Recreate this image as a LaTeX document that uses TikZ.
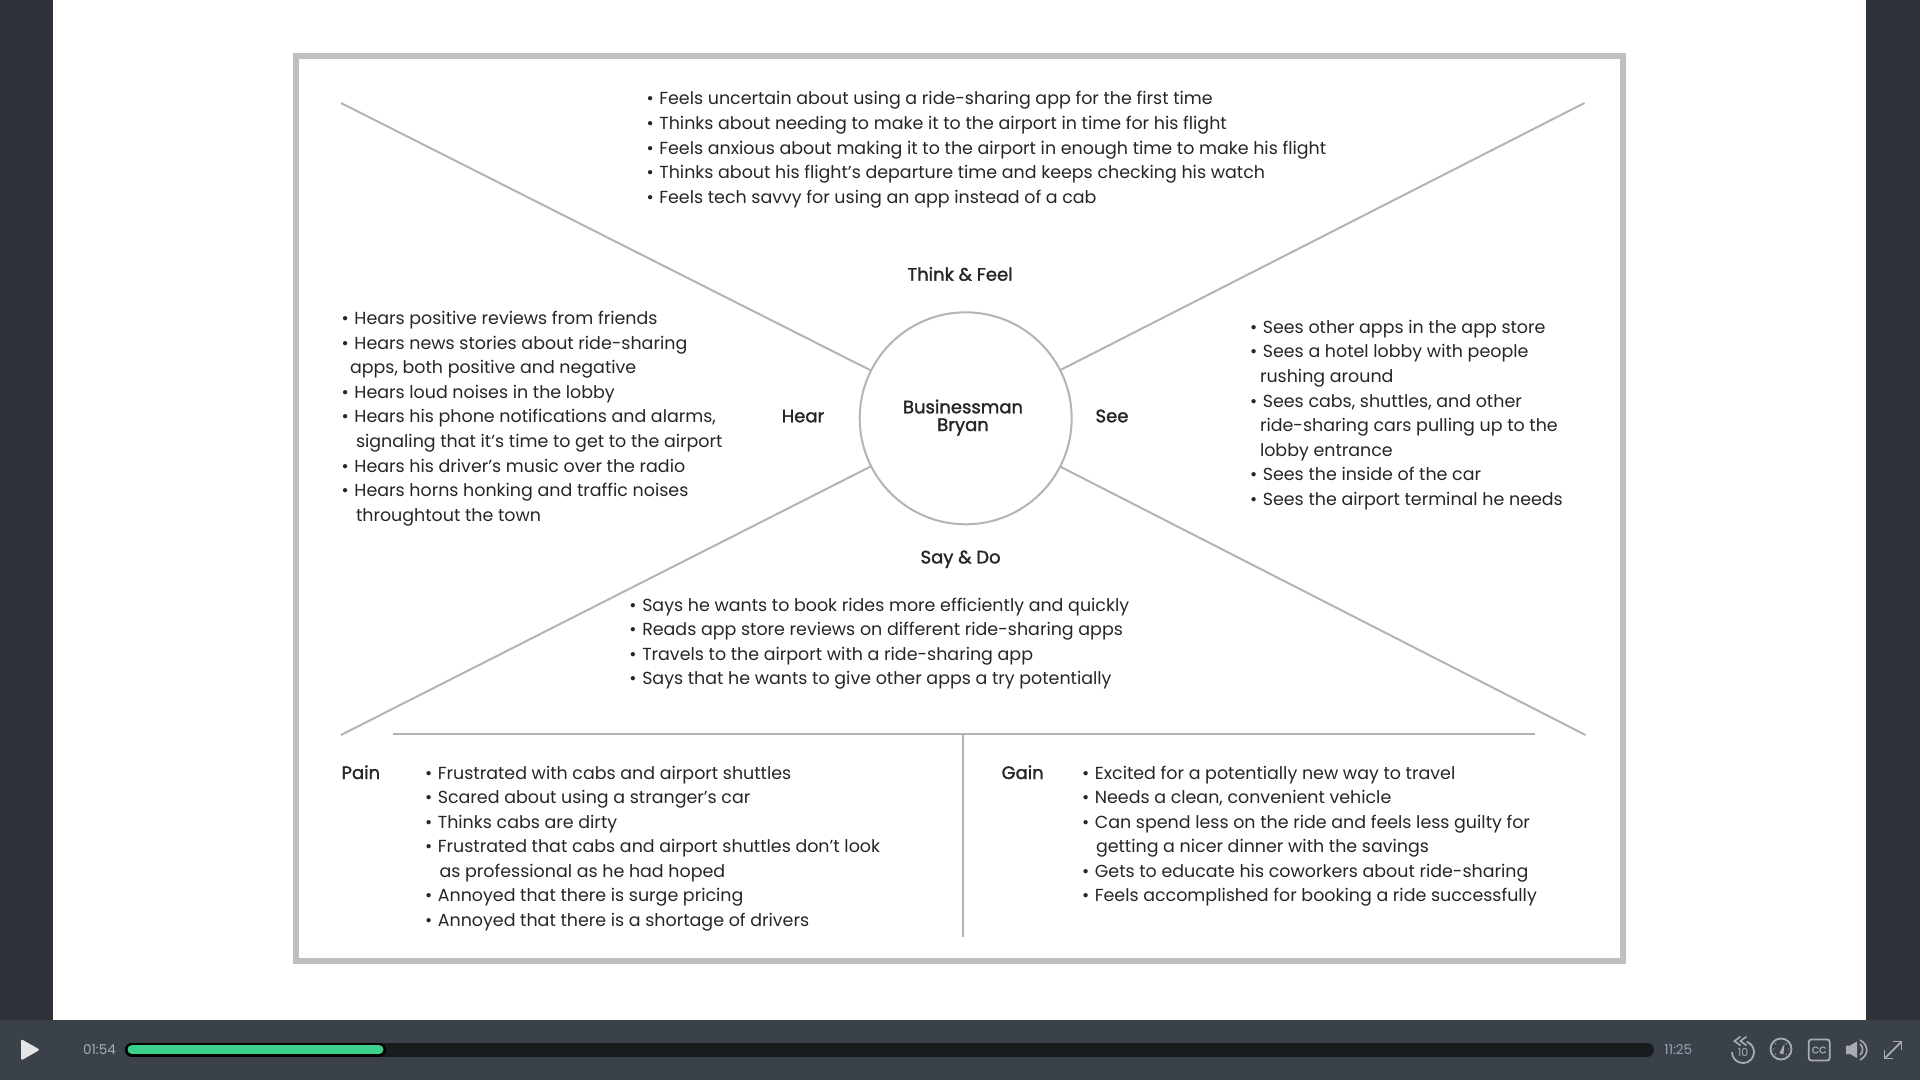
\documentclass[tikz,border=0pt]{standalone}
\usepackage{fontspec}
\setmainfont{Poppins}
\newfontfamily\hdfont[FakeBold=1.6]{Poppins}
\newcommand{\itm}{•\hspace{1pt} }
\definecolor{sidebar}{HTML}{2E323B}
\definecolor{ctrlbar}{HTML}{3A4149}
\definecolor{trackdark}{HTML}{181C1F}
\definecolor{trackgreen}{HTML}{3DD08C}
\definecolor{ctrlicon}{HTML}{A9ADB1}
\definecolor{totalblue}{HTML}{93A6B8}
\definecolor{framegray}{HTML}{BFBFBF}
\definecolor{linegray}{HTML}{B4B4B4}
\definecolor{inkgray}{HTML}{262626}
\tikzset{
    txt/.style={anchor=base west,inner sep=0pt,outer sep=0pt,text=inkgray,font=\fontsize{17.45}{20}\selectfont},
    hd/.style={anchor=base,inner sep=0pt,outer sep=0pt,text=inkgray,font=\hdfont\fontsize{18}{20}\selectfont},
    rule/.style={draw=linegray,line width=2pt},
    ctrltxt/.style={inner sep=0pt,font=\fontsize{13.5}{16}\selectfont},
    icon/.style={draw=ctrlicon,line width=1.6pt},
}
\begin{document}
\begin{tikzpicture}[x=1pt,y=-1pt]
        \fill[sidebar] (0,0) rectangle (1920,1080);
        \fill[white] (53,0) rectangle (1866,1020);
        \useasboundingbox (0,0) rectangle (1920,1080);

        \draw[draw=framegray,line width=6pt] (296,56) rectangle (1623,961);

        \node[circle,draw=linegray,line width=2pt,inner sep=0pt,outer sep=0pt,minimum size=212pt] (persona) at(965.7, 418.3){};
        \coordinate (tl) at(341, 103);
        \coordinate (tr) at(1584.5, 103);
        \coordinate (bl) at(341, 735);
        \coordinate (br) at(1585.5, 735);
        \draw[rule] (tl) -- (persona);
        \draw[rule] (tr) -- (persona);
        \draw[rule] (bl) -- (persona);
        \draw[rule] (br) -- (persona);

        \coordinate (hleft) at(393, 733.5);
        \coordinate (hright) at(1535, 733.5);
        \coordinate (vtop) at(962.5, 733.5);
        \coordinate (vbot) at(962.5, 937);
        \draw[rule] (hleft) -- (hright);
        \draw[rule] (vtop) -- (vbot);

        \node[hd] (name1) at(963, 413.3){Businessman};
        \node[hd] (name2) at(963, 431){Bryan};
        \node[hd] (think) at(960, 280.7){Think \& Feel};
        \node[hd] (hear) at(803, 422.3){Hear};
        \node[hd] (see) at(1112, 422.3){See};
        \node[hd] (say) at(960.6, 563.4){Say \& Do};
        \node[hd,anchor=base west] (pain) at(341.6, 779){Pain};
        \node[hd,anchor=base west] (gain) at(1001.6, 779){Gain};

        \node[txt] (tf1) at(646.5, 104.9){\itm Feels uncertain about using a ride-sharing app for the first time};
        \node[txt] (tf2) at(646.5, 129.5){\itm Thinks about needing to make it to the airport in time for his flight};
        \node[txt] (tf3) at(646.5, 154.1){\itm Feels anxious about making it to the airport in enough time to make his flight};
        \node[txt] (tf4) at(646.5, 178.8){\itm Thinks about his flight's departure time and keeps checking his watch};
        \node[txt] (tf5) at(646.5, 203.4){\itm Feels tech savvy for using an app instead of a cab};

        \node[txt] (he1) at(341.6, 324.7){\itm Hears positive reviews from friends};
        \node[txt] (he2) at(341.6, 349.2){\itm Hears news stories about ride-sharing};
        \node[txt] (he3) at(350, 373.8){apps, both positive and negative};
        \node[txt] (he4) at(341.6, 398.3){\itm Hears loud noises in the lobby};
        \node[txt] (he5) at(341.6, 422.9){\itm Hears his phone notifications and alarms,};
        \node[txt] (he6) at(356, 447.4){signaling that it's time to get to the airport};
        \node[txt] (he7) at(341.6, 472){\itm Hears his driver's music over the radio};
        \node[txt] (he8) at(341.6, 496.5){\itm Hears horns honking and traffic noises};
        \node[txt] (he9) at(356, 521){throughtout the town};

        \node[txt] (se1) at(1250, 333.3){\itm Sees other apps in the app store};
        \node[txt] (se2) at(1250, 357.9){\itm Sees a hotel lobby with people};
        \node[txt] (se3) at(1260, 382.4){rushing around};
        \node[txt] (se4) at(1250, 407){\itm Sees cabs, shuttles, and other};
        \node[txt] (se5) at(1260, 431.5){ride-sharing cars pulling up to the};
        \node[txt] (se6) at(1260, 456.1){lobby entrance};
        \node[txt] (se7) at(1250, 480.6){\itm Sees the inside of the car};
        \node[txt] (se8) at(1250, 505.2){\itm Sees the airport terminal he needs};

        \node[txt] (sd1) at(629.4, 611){\itm Says he wants to book rides more efficiently and quickly};
        \node[txt] (sd2) at(629.4, 635.5){\itm Reads app store reviews on different ride-sharing apps};
        \node[txt] (sd3) at(629.4, 660.1){\itm Travels to the airport with a ride-sharing app};
        \node[txt] (sd4) at(629.4, 684.6){\itm Says that he wants to give other apps a try potentially};

        \node[txt] (pa1) at(425, 779){\itm Frustrated with cabs and airport shuttles};
        \node[txt] (pa2) at(425, 803.5){\itm Scared about using a stranger's car};
        \node[txt] (pa3) at(425, 828.1){\itm Thinks cabs are dirty};
        \node[txt] (pa4) at(425, 852.6){\itm Frustrated that cabs and airport shuttles don't look};
        \node[txt] (pa5) at(439.6, 877.2){as professional as he had hoped};
        \node[txt] (pa6) at(425, 901.7){\itm Annoyed that there is surge pricing};
        \node[txt] (pa7) at(425, 926.3){\itm Annoyed that there is a shortage of drivers};

        \node[txt] (ga1) at(1082, 779){\itm Excited for a potentially new way to travel};
        \node[txt] (ga2) at(1082, 803.5){\itm Needs a clean, convenient vehicle};
        \node[txt] (ga3) at(1082, 828.1){\itm Can spend less on the ride and feels less guilty for};
        \node[txt] (ga4) at(1096, 852.6){getting a nicer dinner with the savings};
        \node[txt] (ga5) at(1082, 877.2){\itm Gets to educate his coworkers about ride-sharing};
        \node[txt] (ga6) at(1082, 901.7){\itm Feels accomplished for booking a ride successfully};

        \fill[ctrlbar] (0,1020) rectangle (1920,1080);
        \fill[white!90!black,rounded corners=1.5pt] (21,1039) -- (40,1049.7) -- (21,1060.5) -- cycle;
        \node[ctrltxt,text=ctrlicon] (elapsed) at(99.5, 1049.7){01:54};
        \node[ctrltxt,text=totalblue] (total) at(1678.3, 1049.7){11:25};

        \draw[trackdark,line width=14pt,line cap=round] (132,1049.7) -- (1647,1049.7);
        \draw[black,line width=14pt,line cap=round] (132,1049.7) -- (379,1049.7);
        \draw[trackgreen,line width=9pt,line cap=round] (132,1049.7) -- (379,1049.7);

        \draw[icon,line width=1.8pt] (1746.8,1041.7) arc[start angle=-70,end angle=180,radius=11];
        \draw[icon] (1740.5,1036.5) -- (1734.5,1041) -- (1740.5,1045.5);
        \draw[icon] (1746.5,1036.5) -- (1740.5,1041) -- (1746.5,1045.5);
        \node[inner sep=0pt,text=ctrlicon,font=\fontsize{11}{12}\selectfont] (skip) at(1743, 1052){10};

        \draw[icon,line width=1.8pt] (1781,1049) circle[radius=10.5];
        \fill[ctrlicon] (1784.5,1043.5) -- (1783.4,1054.5) -- (1779.4,1053) -- cycle;
        \foreach \a in {0,45,135,180,225,315}
            \fill[ctrlicon] (1781,1049) ++(\a:7.5) circle[radius=0.7];

        \draw[icon,line width=1.8pt,rounded corners=2.5pt] (1808.8,1039.5) rectangle (1829.7,1060.5);
        \node[inner sep=0pt,text=ctrlicon,font=\hdfont\fontsize{9.5}{12}\selectfont] (cc) at(1819.2, 1050){CC};

        \fill[ctrlicon] (1846,1045.5) -- (1850,1045.5) -- (1857,1041.5) -- (1857,1058) -- (1850,1054) -- (1846,1054) -- cycle;
        \draw[icon] (1860,1044) ..controls (1863.5,1047) and (1863.5,1052) .. (1860,1055);
        \draw[icon] (1860,1040) ..controls (1869,1045) and (1869,1055) .. (1860,1060);

        \draw[icon,line width=1.8pt] (1885,1058) -- (1901,1042);
        \draw[icon,line width=1.8pt] (1893,1041.5) -- (1901.5,1041.5) -- (1901.5,1050);
        \draw[icon,line width=1.8pt] (1884.5,1050) -- (1884.5,1058.5) -- (1893,1058.5);
    \end{tikzpicture}
\end{document}
